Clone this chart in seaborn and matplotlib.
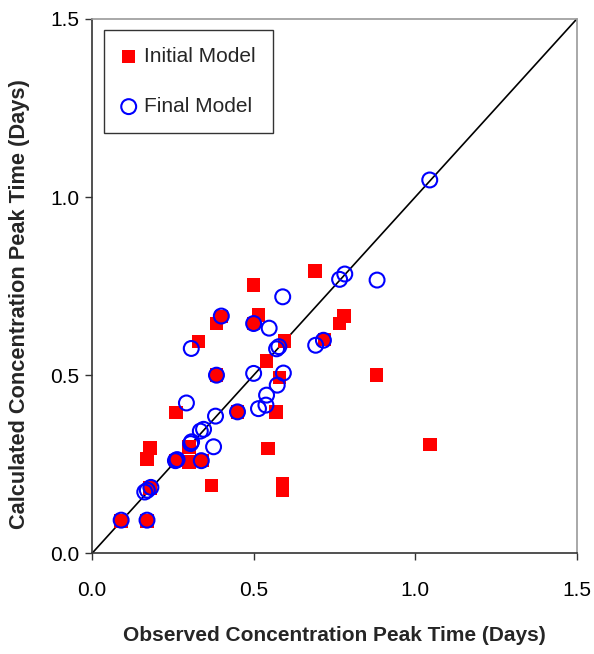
import matplotlib
matplotlib.use("Agg")
import matplotlib.pyplot as plt
import seaborn as sns
import pandas as pd

# Initial model: observed vs calculated peak time (days)
initial_obs = [0.09, 0.17, 0.18, 0.37, 0.26, 0.34, 0.17, 0.18, 0.30, 0.30,
               0.26, 0.45, 0.57, 0.545, 0.59, 0.59, 0.385, 0.58, 0.88, 0.54,
               0.33, 0.595, 0.72, 0.385, 0.40, 0.50, 0.515, 0.50, 0.69, 0.765,
               0.78, 1.045]
initial_calc = [0.09, 0.09, 0.183, 0.19, 0.26, 0.26, 0.265, 0.295, 0.299, 0.256,
                0.395, 0.397, 0.397, 0.294, 0.195, 0.178, 0.50, 0.494, 0.50, 0.54,
                0.595, 0.596, 0.60, 0.645, 0.665, 0.645, 0.669, 0.753, 0.793, 0.645,
                0.666, 0.306]

# Final model: observed vs calculated peak time (days)
final_obs = [0.09, 0.17, 0.163, 0.171, 0.182, 0.258, 0.263, 0.338, 0.305, 0.308,
             0.335, 0.345, 0.376, 0.382, 0.292, 0.45, 0.515, 0.538, 0.54, 0.385,
             0.50, 0.592, 0.573, 0.307, 0.571, 0.578, 0.692, 0.716, 0.40, 0.50,
             0.548, 0.59, 0.766, 0.782, 0.882, 1.045]
final_calc = [0.093, 0.093, 0.172, 0.177, 0.185, 0.26, 0.263, 0.26, 0.308, 0.313,
              0.343, 0.348, 0.299, 0.385, 0.422, 0.397, 0.406, 0.416, 0.444, 0.50,
              0.505, 0.506, 0.472, 0.575, 0.574, 0.58, 0.584, 0.598, 0.666, 0.645,
              0.632, 0.72, 0.769, 0.784, 0.767, 1.048]

ticks = [0.0, 0.5, 1.0, 1.5]
tick_labels = ["0.0", "0.5", "1.0", "1.5"]

sns.set_theme(style="white")
plt.rcParams["font.family"] = ["Liberation Sans", "DejaVu Sans"]

df_init = pd.DataFrame({"obs": initial_obs, "calc": initial_calc})
df_final = pd.DataFrame({"obs": final_obs, "calc": final_calc})

fig = plt.figure(figsize=(5.94, 6.54), dpi=100)
ax = fig.add_axes([0.155, 0.154, 0.816, 0.817])

# 1:1 reference line
ax.plot([0, 1.5], [0, 1.5], color="black", lw=1.2, zorder=1)

sns.scatterplot(data=df_init, x="obs", y="calc", ax=ax, marker="s", s=95,
                color="#ff0000", edgecolor="none", linewidth=0,
                label="Initial Model", zorder=2)
sns.scatterplot(data=df_final, x="obs", y="calc", ax=ax, marker="o", s=115,
                facecolor="none", edgecolor="#0000ff", linewidth=1.5,
                label="Final Model", zorder=3)

ax.set_xlim(0, 1.5)
ax.set_ylim(0, 1.5)
ax.set_xticks(ticks)
ax.set_xticklabels(tick_labels)
ax.set_yticks(ticks)
ax.set_yticklabels(tick_labels)
ax.tick_params(axis="both", which="major", direction="out", length=5, width=1,
               color="#333333", labelsize=15, labelcolor="black",
               bottom=True, left=True)
ax.tick_params(axis="x", pad=15)
ax.tick_params(axis="y", pad=4)

for side in ["left", "bottom"]:
    ax.spines[side].set_color("#333333")
    ax.spines[side].set_linewidth(1.2)
for side in ["top", "right"]:
    ax.spines[side].set_color("#9a9a9a")
    ax.spines[side].set_linewidth(1.2)

ax.set_xlabel("Observed Concentration Peak Time (Days)", fontsize=15,
              fontweight="bold", labelpad=19)
ax.set_ylabel("Calculated Concentration Peak Time (Days)", fontsize=15.7,
              fontweight="bold")
ax.yaxis.set_label_coords(-0.129, 0.466)

leg = ax.legend(loc="upper left", bbox_to_anchor=(0.024, 0.979), fontsize=15,
                frameon=True, fancybox=False, edgecolor="black",
                labelspacing=1.5, borderpad=0.8, handletextpad=0.35,
                handlelength=0.8, borderaxespad=0)
leg.get_frame().set_linewidth(1.0)

fig.savefig("out.png", dpi=100)
